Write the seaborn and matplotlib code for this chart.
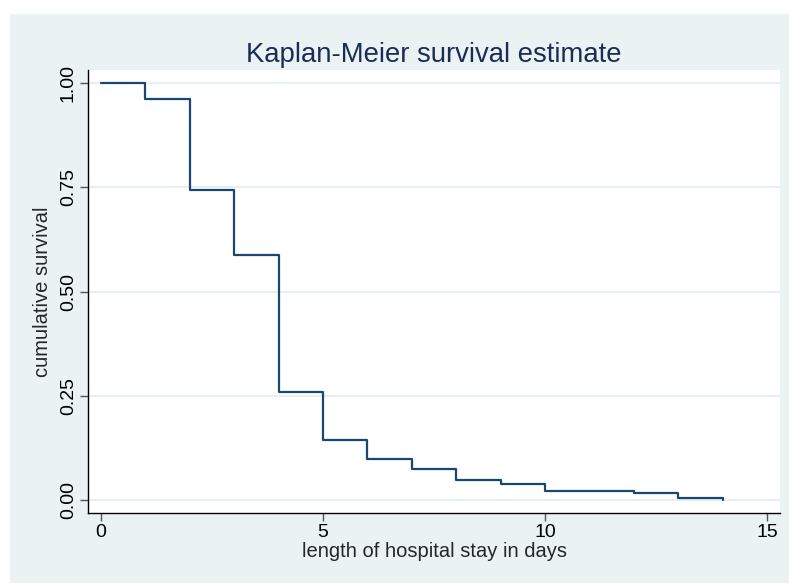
import matplotlib
matplotlib.use('Agg')
import matplotlib.pyplot as plt
from matplotlib.patches import Rectangle
import seaborn as sns
import pandas as pd

# Kaplan-Meier estimate
days = [0, 1, 2, 3, 4, 5, 6, 7, 8, 9, 10, 12, 13, 14]
survival = [1.0, 0.9616, 0.743, 0.588, 0.2585, 0.1448, 0.0991, 0.0744,
            0.048, 0.0377, 0.0223, 0.0175, 0.0055, 0.0]
yticks = [0.0, 0.25, 0.50, 0.75, 1.0]
ytick_labels = ['0.00', '0.25', '0.50', '0.75', '1.00']
xticks = [0, 5, 10, 15]

sns.set_style('white')
plt.rcParams['font.family'] = ['Liberation Sans', 'DejaVu Sans']

bg = '#eaf2f3'
navy = '#1a476f'

df = pd.DataFrame({'days': days, 'survival': survival})

fig = plt.figure(figsize=(7.89, 5.84), dpi=100, facecolor='white')
# stata style outer panel, kept behind the axes
fig.add_artist(Rectangle((10 / 789, 1 / 584), 1 - 10 / 789, (583 - 14) / 584,
                         transform=fig.transFigure, facecolor=bg,
                         edgecolor='none', zorder=-10))
ax = fig.add_axes([88 / 789, 1 - 512.7 / 584, (780 - 88) / 789, (512.7 - 70) / 584])
ax.set_facecolor('white')

sns.lineplot(data=df, x='days', y='survival', drawstyle='steps-post',
             color=navy, linewidth=1.6, ax=ax)

ax.set_xlim(-0.29, 15.29)
ax.set_ylim(-0.0305, 1.032)
ax.set_yticks(yticks)
ax.set_yticklabels(ytick_labels, rotation=90, va='center')
ax.set_xticks(xticks)
ax.yaxis.grid(True, color='#e6eff1', linewidth=1.5)
ax.set_axisbelow(True)

for s in ['top', 'right']:
    ax.spines[s].set_visible(False)
for s in ['left', 'bottom']:
    ax.spines[s].set_color('black')
    ax.spines[s].set_linewidth(1.0)

ax.tick_params(axis='both', direction='out', length=6, width=1,
               color='#555555', labelsize=14, labelcolor='black', pad=2, left=True, bottom=True)

ax.set_xlabel('length of hospital stay in days', fontsize=14.5, labelpad=1)
ax.set_ylabel('cumulative survival', fontsize=14.5, labelpad=6)
ax.set_title('Kaplan-Meier survival estimate', fontsize=19.8, color='#1c2d55', pad=6)

plt.savefig('out.png', dpi=100, facecolor=fig.get_facecolor())
